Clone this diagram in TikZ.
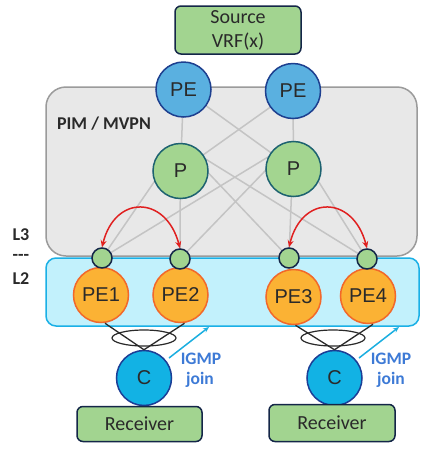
\documentclass[tikz,border=0pt]{standalone}
\usepackage{fontspec}
\newfontfamily\carl{Carlito}
\newfontfamily\arl{Liberation Sans}
\usetikzlibrary{arrows.meta}
\definecolor{boxgreen}{HTML}{A2D490}
\definecolor{navy}{HTML}{142648}
\definecolor{peblue}{HTML}{5AB0E0}
\definecolor{peborder}{HTML}{1D3F8F}
\definecolor{pgreen}{HTML}{A3D590}
\definecolor{pborder}{HTML}{1D6270}
\definecolor{orangef}{HTML}{FBB234}
\definecolor{oranged}{HTML}{F2682A}
\definecolor{cblue}{HTML}{12B2E4}
\definecolor{cborder}{HTML}{1B3E96}
\definecolor{grayfill}{HTML}{E8E8E8}
\definecolor{grayline}{HTML}{9B9B9B}
\definecolor{lightblue}{HTML}{C2F1FC}
\definecolor{l2line}{HTML}{1AB0E6}
\definecolor{meshgray}{HTML}{C4C4C4}
\definecolor{redarrow}{HTML}{E02020}
\definecolor{igmpline}{HTML}{1AAEE0}
\definecolor{igmptext}{HTML}{3D7AD6}
\definecolor{txt}{HTML}{2A2A2A}
\begin{document}
\begin{tikzpicture}[x=1pt,y=-1pt,
  greenbox/.style={draw=navy,fill=boxgreen,line width=1.5pt,rounded corners=6pt,inner sep=0pt,
    font=\carl\fontsize{20}{24}\selectfont,text=txt,align=center},
  router/.style={circle,minimum size=55pt,inner sep=0pt,line width=1.5pt,
    font=\arl\fontsize{20}{24}\selectfont,text=txt},
  pebox/.style={router,draw=peborder,fill=peblue},
  pbox/.style={router,draw=pborder,fill=pgreen},
  orbox/.style={router,draw=oranged,fill=orangef},
  cbox/.style={router,draw=cborder,fill=cblue},
  port/.style={circle,minimum size=20pt,inner sep=0pt,line width=1.5pt,draw=navy,fill=boxgreen},
  mesh/.style={draw=meshgray,line width=1.5pt},
  redarr/.style={draw=redarrow,line width=1.5pt,{Stealth[length=7pt,width=6pt]}-{Stealth[length=7pt,width=6pt]}},
  igmparr/.style={draw=igmpline,line width=1.5pt,-{Stealth[length=6pt,width=5pt]}},
  igmplab/.style={font=\carl\bfseries\fontsize{17.5}{21}\selectfont,text=igmptext,inner sep=0pt},
  sidelab/.style={font=\carl\bfseries\fontsize{18}{21}\selectfont,text=txt,inner sep=0pt},
  cable/.style={draw=txt,line width=1.3pt}
]
\useasboundingbox (0,0) rectangle (423,451);
\fill[white] (0,0) rectangle (423,451);

% domains
\draw[fill=grayfill,draw=grayline,line width=1.5pt,rounded corners=20pt] (46,87) rectangle (417,256);
\draw[fill=lightblue,draw=l2line,line width=1.5pt,rounded corners=10pt] (46,258) rectangle (419,326);

\node[sidelab] (pim) at (104,124) {PIM / MVPN};
\node[sidelab] (l3) at (21,235) {L3};
\node[sidelab] (sep) at (21,257) {---};
\node[sidelab] (l2) at (21,279) {L2};

% nodes (coordinates first, drawn later)
\node[greenbox,minimum width=126pt,minimum height=48pt] (src) at (238,30) {Source\\VRF(x)};

\coordinate (cpe1) at (183.5,89.5);
\coordinate (cpe2) at (293,91);
\coordinate (cp1) at (180.5,171);
\coordinate (cp2) at (293.5,169);
\coordinate (cs1) at (102,258);
\coordinate (cs2) at (180,259);
\coordinate (cs3) at (289,258);
\coordinate (cs4) at (367,259);

% mesh lines
\draw[mesh] (cpe1) -- (cp1);
\draw[mesh] (cpe1) -- (cp2);
\draw[mesh] (cpe2) -- (cp1);
\draw[mesh] (cpe2) -- (cp2);
\foreach \s in {cs1,cs2,cs3,cs4}{
  \draw[mesh] ([yshift=27.5pt]cp1) -- (\s);
  \draw[mesh] ([yshift=27.5pt]cp2) -- (\s);
}

\node[pebox] (pe1) at (cpe1) {PE};
\node[pebox] (pe2) at (cpe2) {PE};
\node[pbox] (p1) at (cp1) {P};
\node[pbox] (p2) at (cp2) {P};

\node[orbox] (pea) at (101,295) {PE1};
\node[orbox] (peb) at (180.5,295) {PE2};
\node[orbox] (pec) at (293.5,297) {PE3};
\node[orbox] (ped) at (368,296) {PE4};

\node[port] (s1) at (cs1) {};
\node[port] (s2) at (cs2) {};
\node[port] (s3) at (cs3) {};
\node[port] (s4) at (cs4) {};

% red arrows
\draw[redarr] (s1.north) .. controls +(13,-53) and +(-14,-53) .. (s2.north);
\draw[redarr] (s3.north) .. controls +(13,-53) and +(-14,-53) .. (s4.north);

% customers
\node[cbox] (c1) at (144,378) {C};
\node[cbox] (c2) at (334.5,378) {C};

\draw[cable] ([xshift=4pt]pea.south) -- (c1.north);
\draw[cable] ([xshift=4pt]peb.south) -- (c1.north);
\draw[cable] ([xshift=2pt]pec.south) -- (c2.north);
\draw[cable] ([xshift=5pt]ped.south) -- (c2.north);
\draw[cable,line width=1.2pt] (144,338) ellipse [x radius=32pt,y radius=8pt];
\draw[cable,line width=1.2pt] (333,338) ellipse [x radius=32pt,y radius=8pt];

\node[greenbox,minimum width=125pt,minimum height=35pt] (r1) at (139.5,424) {Receiver};
\node[greenbox,minimum width=126pt,minimum height=37pt] (r2) at (332,423) {Receiver};

% IGMP joins
\coordinate (ja) at (169,358);
\coordinate (jb) at (209,327);
\coordinate (jc) at (359,358);
\coordinate (jd) at (399,327);
\draw[igmparr] (ja) -- (jb);
\draw[igmparr] (jc) -- (jd);
\node[igmplab] (ig1) at (201,359) {IGMP};
\node[igmplab] (jo1) at (200,380) {join};
\node[igmplab] (ig2) at (391,359) {IGMP};
\node[igmplab] (jo2) at (391,380) {join};
\end{tikzpicture}
\end{document}
